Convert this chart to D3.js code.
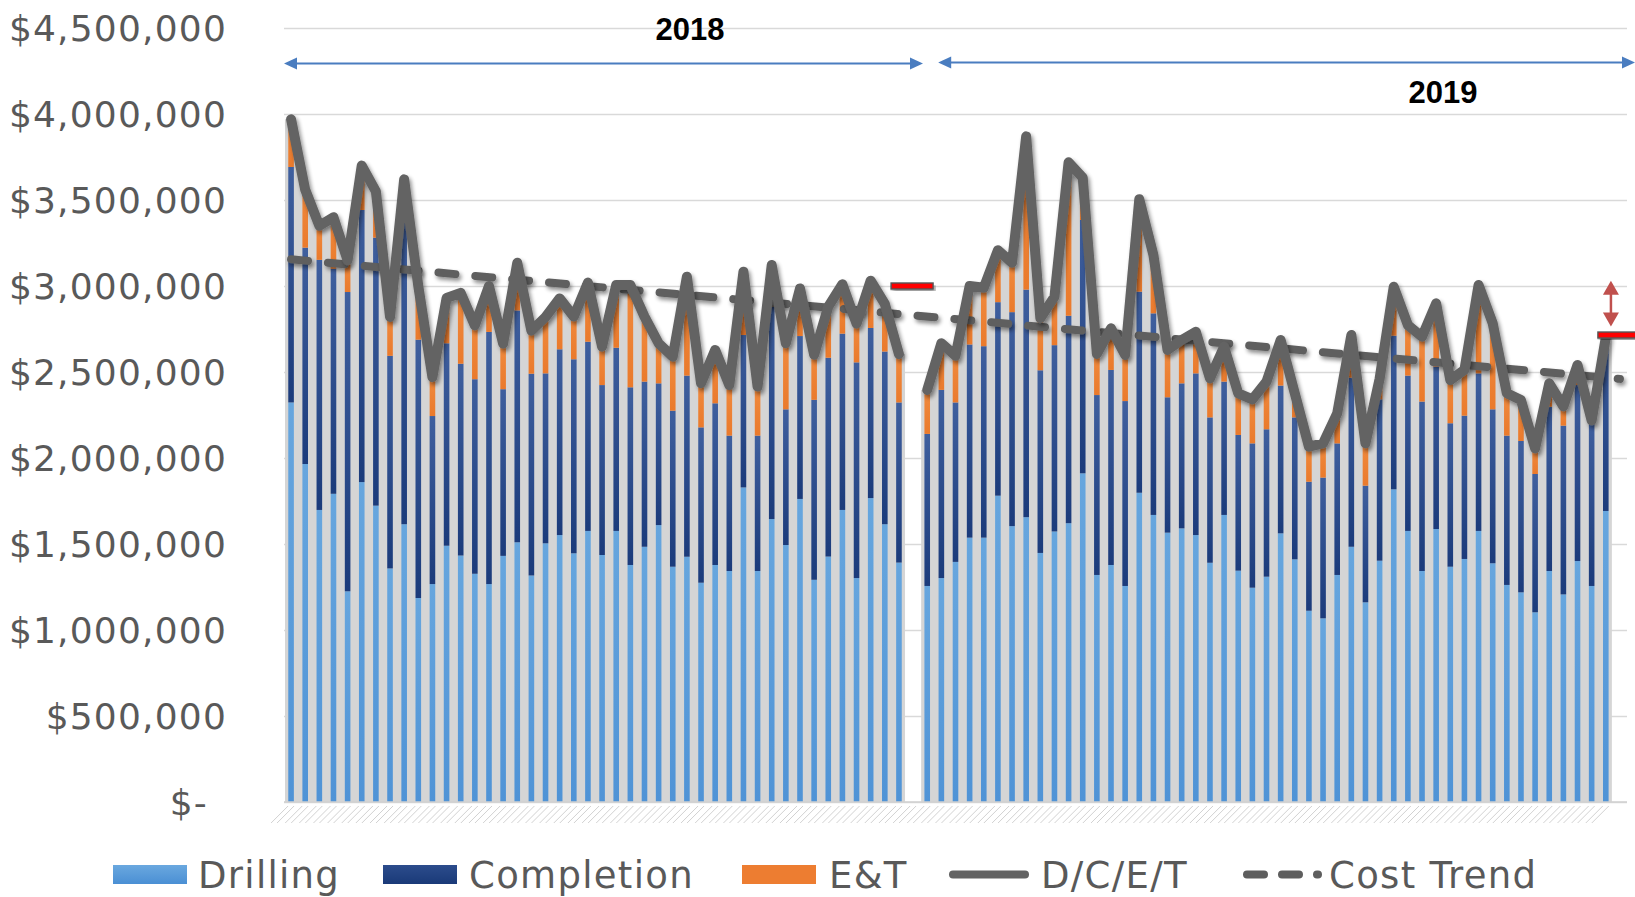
<!DOCTYPE html>
<html>
<head>
<meta charset="utf-8">
<script src="https://cdn.jsdelivr.net/npm/d3@7"></script>
<style>
  html, body { margin: 0; padding: 0; background: #ffffff; }
  svg { display: block; }
</style>
</head>
<body>
<svg id="chart" width="1635" height="897"></svg>
<script>
// Well cost per well, thousands of dollars. null = no well in that slot
// (the slot between the two years and the target slot at the end).
const UNIT = 1000;

const drilling = [
  2323,1965,1698,1792,1225,1860,1723,1358,1615,1186,1267,1490,1433,1327,1267,1431,1510,1317,1504,1552,1446,1576,
  1436,1576,1378,1484,1610,1368,1426,1275,1378,1343,1829,1343,1645,1494,1762,1292,1427,1698,1302,1767,1615,1392,
  null,
  1256,1302,1396,1537,1537,1781,1604,1656,1448,1573,1621,1911,1320,1378,1256,1798,1669,1566,1591,1552,1391,1669,
  1345,1246,1310,1562,1411,1112,1068,1320,1484,1161,1403,1818,1576,1343,1587,1368,1413,1576,1388,1262,1219,1103,
  1343,1207,1401,1256,1692,
  null
];

const completion = [
  1369,1258,1454,1308,1740,1582,1558,1236,1785,1502,977,1177,1115,1131,1466,969,1348,1173,988,1080,1128,1100,
  988,1065,1033,960,824,907,1053,903,940,787,886,787,1235,789,947,1046,1156,1025,1254,989,1004,931,
  null,
  884,1094,927,1123,1113,1125,1244,1323,1062,1083,1206,1473,1046,1134,1075,1169,1172,787,843,940,845,775,
  789,839,857,859,825,750,818,765,983,678,938,893,903,985,944,834,833,916,895,868,880,804,
  955,981,1023,942,968,
  null
];

const eAndT = [
  277,337,198,300,185,258,269,226,220,312,226,263,412,313,267,265,277,250,328,296,248,344,
  223,365,595,378,233,314,575,256,310,294,368,285,242,384,277,262,297,287,225,275,277,281,
  null,
  256,271,271,340,340,302,287,891,303,282,892,246,239,242,268,538,339,275,252,242,227,203,
  242,256,277,265,140,204,199,175,248,246,119,285,294,377,368,251,266,514,500,246,238,149,
  136,112,117,20,40,
  null
];

const categories = drilling.map((d, i) => "Well " + (i + 1));

const seriesNames = ["Drilling", "Completion", "E&T", "D/C/E/T", "Cost Trend"];
const yearLabels = ["2018", "2019"];
const yTicks = [0, 500000, 1000000, 1500000, 2000000, 2500000, 3000000, 3500000, 4000000, 4500000];

// Linear cost trend, value at the first and at the last slot
const trendEnds = [3155000, 2460000];

// Target cost markers: slot index and value
const targetSlots = [44, 94];
const targetValues = [3000000, 2715000];
// Gap arrow next to the 2019 target
const gapArrowValues = [3030000, 2765000];

// ---------------------------------------------------------------------------
const W = 1635, H = 897;
const plot = { left: 284, right: 1627, top: 28, bottom: 802 };
const svg = d3.select("#chart");
const defs = svg.append("defs");

const rows = categories.map((c, i) => ({
  cat: c,
  defined: drilling[i] != null,
  drilling: (drilling[i] || 0) * UNIT,
  completion: (completion[i] || 0) * UNIT,
  et: (eAndT[i] || 0) * UNIT
}));
rows.forEach(r => r.total = r.drilling + r.completion + r.et);

const x = d3.scaleBand().domain(categories).range([plot.left, plot.right]).paddingInner(0).paddingOuter(0);
const y = d3.scaleLinear().domain([0, 4500000]).range([plot.bottom, plot.top]);
const cx = c => x(c) + x.bandwidth() / 2;
const barW = 5.6;

// gradients and filters
function vGrad(id, stops) {
  const g = defs.append("linearGradient").attr("id", id).attr("x1", 0).attr("y1", 0).attr("x2", 0).attr("y2", 1);
  stops.forEach(([o, c]) => g.append("stop").attr("offset", o).attr("stop-color", c));
}
vGrad("gDrill", [[0, "#67a6de"], [1, "#4f93d6"]]);
vGrad("gComp", [[0, "#3f5f9e"], [1, "#1b3b7b"]]);
vGrad("gET", [[0, "#f08a3e"], [1, "#ea7a2c"]]);
vGrad("gDrillKey", [[0, "#6aa8df"], [1, "#4a8fd4"]]);
vGrad("gCompKey", [[0, "#2c4c8c"], [1, "#1a3a78"]]);

const shadow = defs.append("filter").attr("id", "shadow").attr("x", "-5%").attr("y", "-10%").attr("width", "110%").attr("height", "130%");
shadow.append("feGaussianBlur").attr("in", "SourceAlpha").attr("stdDeviation", 2.2).attr("result", "b");
shadow.append("feOffset").attr("in", "b").attr("dx", 2).attr("dy", 3).attr("result", "o");
shadow.append("feComponentTransfer").attr("in", "o").attr("result", "s")
  .append("feFuncA").attr("type", "linear").attr("slope", 0.45);
const merge = shadow.append("feMerge");
merge.append("feMergeNode").attr("in", "s");
merge.append("feMergeNode").attr("in", "SourceGraphic");

// y axis with gridlines
const fmt = v => v === 0 ? "$-" : "$" + d3.format(",")(v);
const yAxis = svg.append("g")
  .attr("transform", `translate(${plot.left},0)`)
  .call(d3.axisLeft(y).tickValues(yTicks).tickSize(-(plot.right - plot.left)).tickPadding(57).tickFormat(fmt));
yAxis.select(".domain").remove();
yAxis.selectAll(".tick line").attr("stroke", "#d9d9d9").attr("stroke-width", 1.4);
yAxis.selectAll(".tick text")
  .attr("fill", "#595959")
  .style("font-family", "'DejaVu Sans', Verdana, sans-serif")
  .style("font-size", "36px")
  .style("letter-spacing", "1.2px")
  .attr("dy", "0.36em")
  .attr("dx", d => d === 0 ? -19 : 0);

// slanted category ticks under the axis
const hatch = svg.append("g").attr("stroke", "#d2d2d2").attr("stroke-width", 1);
rows.slice(0, rows.length - 1).forEach(r => {
  const c = cx(r.cat);
  [0, -6].forEach(off => {
    hatch.append("line")
      .attr("x1", c + 3 + off).attr("y1", plot.bottom + 4)
      .attr("x2", c - 14 + off).attr("y2", plot.bottom + 21);
  });
});

// split into runs of consecutive wells
const runs = [];
let cur = [];
rows.forEach(r => {
  if (r.defined) cur.push(r);
  else if (cur.length) { runs.push(cur); cur = []; }
});
if (cur.length) runs.push(cur);

// grey fill under the total cost line
const area = d3.area().x(d => d.x).y0(y(0)).y1(d => d.y);
const fillG = svg.append("g");
runs.forEach(run => {
  const pts = [];
  const f = run[0], l = run[run.length - 1];
  pts.push({ x: x(f.cat) + 1, y: y(f.total) });
  run.forEach(r => pts.push({ x: cx(r.cat), y: y(r.total) }));
  pts.push({ x: x(l.cat) + x.bandwidth() - 1, y: y(l.total) });
  fillG.append("path").attr("d", area(pts)).attr("fill", "#d5d5d5");
});

// stacked bars
const stack = d3.stack().keys(["drilling", "completion", "et"]);
const layers = stack(rows);
const fills = { drilling: "url(#gDrill)", completion: "url(#gComp)", et: "url(#gET)" };
const barsG = svg.append("g");
layers.forEach(layer => {
  barsG.append("g")
    .attr("fill", fills[layer.key])
    .selectAll("rect")
    .data(layer.filter(d => d.data.defined))
    .join("rect")
    .attr("x", d => cx(d.data.cat) - barW / 2)
    .attr("width", barW)
    .attr("y", d => y(d[1]))
    .attr("height", d => Math.max(0, y(d[0]) - y(d[1])));
});

// axis baseline
svg.append("line")
  .attr("x1", plot.left).attr("x2", plot.right)
  .attr("y1", y(0)).attr("y2", y(0))
  .attr("stroke", "#d0d0d0").attr("stroke-width", 1.4);

// cost trend (dashed)
const first = categories[0], last = categories[categories.length - 1];
svg.append("line")
  .attr("x1", cx(first)).attr("y1", y(trendEnds[0]))
  .attr("x2", cx(last)).attr("y2", y(trendEnds[1]))
  .attr("stroke", "#5e5e5e").attr("stroke-width", 8)
  .attr("stroke-linecap", "round").attr("stroke-dasharray", "17 20")
  .attr("filter", "url(#shadow)");

// D/C/E/T total line
const line = d3.line()
  .defined(d => d.defined)
  .x(d => cx(d.cat))
  .y(d => y(d.total));
svg.append("path")
  .attr("d", line(rows))
  .attr("fill", "none")
  .attr("stroke", "#636363").attr("stroke-width", 10)
  .attr("stroke-linejoin", "round").attr("stroke-linecap", "round")
  .attr("filter", "url(#shadow)");

// target markers
targetSlots.forEach((s, i) => {
  const c = cx(categories[s]);
  svg.append("rect")
    .attr("x", c - 22).attr("width", 42)
    .attr("y", y(targetValues[i]) - 3).attr("height", 6)
    .attr("fill", "#ff0000").attr("stroke", "#555555").attr("stroke-width", 1.4)
    .attr("filter", "url(#shadow)");
});

// double-headed gap arrow
{
  const ax = cx(categories[targetSlots[1]]) - 9;
  const yT = y(gapArrowValues[0]), yB = y(gapArrowValues[1]);
  const g = svg.append("g").attr("fill", "#c0504d").attr("stroke", "#c0504d");
  g.append("line").attr("x1", ax).attr("x2", ax).attr("y1", yT + 10).attr("y2", yB - 10).attr("stroke-width", 2.5);
  g.append("path").attr("stroke", "none").attr("d", `M${ax},${yT} L${ax + 8},${yT + 14} L${ax - 8},${yT + 14} Z`);
  g.append("path").attr("stroke", "none").attr("d", `M${ax},${yB} L${ax + 8},${yB - 14} L${ax - 8},${yB - 14} Z`);
}

// year spans
function spanArrow(x1, x2, yy) {
  const g = svg.append("g").attr("fill", "#4a7dc0").attr("stroke", "#4a7dc0");
  g.append("line").attr("x1", x1 + 8).attr("x2", x2 - 8).attr("y1", yy).attr("y2", yy).attr("stroke-width", 2);
  g.append("path").attr("stroke", "none").attr("d", `M${x1},${yy} L${x1 + 13},${yy - 6} L${x1 + 13},${yy + 6} Z`);
  g.append("path").attr("stroke", "none").attr("d", `M${x2},${yy} L${x2 - 13},${yy - 6} L${x2 - 13},${yy + 6} Z`);
}
const gapCat = categories[targetSlots[0]];
const x2018a = x(first), x2018b = x(gapCat) + x.bandwidth() * 1.2;
const x2019a = x(gapCat) + x.bandwidth() + 18, x2019b = W;
spanArrow(x2018a, x2018b, 63.5);
spanArrow(x2019a, x2019b, 62.5);

const yearText = svg.append("g")
  .style("font-family", "'Liberation Sans', Arial, sans-serif")
  .style("font-weight", "bold").style("font-size", "31px").attr("fill", "#000").attr("text-anchor", "middle");
yearText.append("text").attr("x", 690).attr("y", 40).text(yearLabels[0]);
yearText.append("text").attr("x", 1443).attr("y", 103).text(yearLabels[1]);

// legend
const lg = svg.append("g")
  .style("font-family", "'DejaVu Sans', Verdana, sans-serif")
  .style("font-size", "37px").style("letter-spacing", "1.3px").attr("fill", "#595959");
const ly = 874.5;
const keyX = [113, 383, 742, 951, 1243];
const textX = [198, 469, 829, 1041, 1329];
const keyFill = ["url(#gDrillKey)", "url(#gCompKey)", "#ed7d31"];
[0, 1, 2].forEach(i => {
  lg.append("rect").attr("x", keyX[i]).attr("y", ly - 9.5).attr("width", 74).attr("height", 19).attr("fill", keyFill[i]);
});
lg.append("line").attr("x1", keyX[3] + 2).attr("x2", keyX[3] + 74).attr("y1", ly).attr("y2", ly)
  .attr("stroke", "#636363").attr("stroke-width", 8).attr("stroke-linecap", "round");
lg.append("line").attr("x1", keyX[4] + 4).attr("x2", keyX[4] + 75).attr("y1", ly).attr("y2", ly)
  .attr("stroke", "#5e5e5e").attr("stroke-width", 8).attr("stroke-linecap", "round").attr("stroke-dasharray", "17 18");
seriesNames.forEach((n, i) => {
  lg.append("text").attr("x", textX[i]).attr("y", ly).attr("dy", "0.36em").text(n);
});
</script>
</body>
</html>
